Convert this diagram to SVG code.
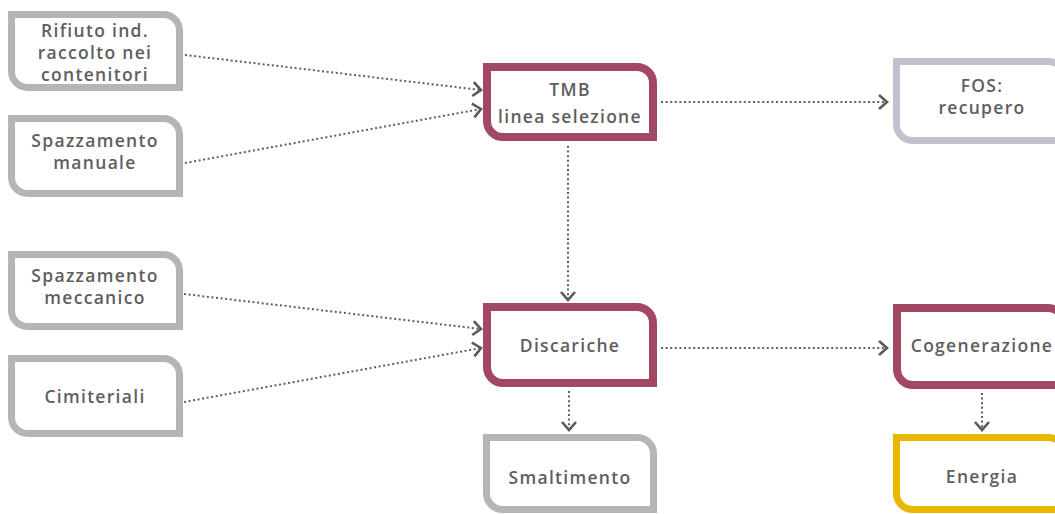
<svg xmlns="http://www.w3.org/2000/svg" width="1055" height="514" viewBox="0 0 1055 514">
<defs>
<style>
.box{fill:#fff;}
.gray{stroke:#b5b5b5;stroke-width:7;}
.red{stroke:#a24863;stroke-width:8;}
.lav{stroke:#c3c0cf;stroke-width:7;}
.yel{stroke:#ebb600;stroke-width:7;}
text{font-family:"Open Sans","Liberation Sans",sans-serif;font-weight:600;font-size:17.5px;letter-spacing:1.3px;fill:#5e5e5e;text-anchor:middle;}
.c{fill:none;stroke:#5f5f5f;stroke-width:2;stroke-dasharray:2 2.6;}
</style>
<marker id="ah" markerWidth="14" markerHeight="18" refX="10" refY="8" orient="auto" markerUnits="userSpaceOnUse">
<path d="M2 1 L10 8 L2 15" fill="none" stroke="#5a5a5a" stroke-width="2.6"/>
</marker>
</defs>
<g id="n-rifiuto"><path class="box gray" d="M11.5 14.5 H163.5 A16 16 0 0 1 179.5 30.5 V87.5 H27.5 A16 16 0 0 1 11.5 71.5 Z"/>
<text x="95" y="37">Rifiuto ind.</text><text x="95" y="59">raccolto nei</text><text x="95" y="81">contenitori</text></g>
<g id="n-manuale"><path class="box gray" d="M11.5 118.5 H163.5 A16 16 0 0 1 179.5 134.5 V193.5 H27.5 A16 16 0 0 1 11.5 177.5 Z"/>
<text x="95" y="147">Spazzamento</text><text x="95" y="169">manuale</text></g>
<g id="n-meccanico"><path class="box gray" d="M11.5 254.5 H163.5 A16 16 0 0 1 179.5 270.5 V326.5 H27.5 A16 16 0 0 1 11.5 310.5 Z"/>
<text x="95" y="282">Spazzamento</text><text x="95" y="304">meccanico</text></g>
<g id="n-cimiteriali"><path class="box gray" d="M11.5 358.5 H163.5 A16 16 0 0 1 179.5 374.5 V433.5 H27.5 A16 16 0 0 1 11.5 417.5 Z"/>
<text x="95" y="403">Cimiteriali</text></g>
<g id="n-tmb"><path class="box red" d="M487 67 H637 A16 16 0 0 1 653 83 V137 H503 A16 16 0 0 1 487 121 Z"/>
<text x="570" y="96">TMB</text><text x="570" y="123">linea selezione</text></g>
<g id="n-discariche"><path class="box red" d="M487 307 H637 A16 16 0 0 1 653 323 V383 H503 A16 16 0 0 1 487 367 Z"/>
<text x="570" y="352">Discariche</text></g>
<g id="n-smaltimento"><path class="box gray" d="M486.5 437.5 H637.5 A16 16 0 0 1 653.5 453.5 V509.5 H502.5 A16 16 0 0 1 486.5 493.5 Z"/>
<text x="570" y="484">Smaltimento</text></g>
<g id="n-fos"><path class="box lav" d="M896.5 61.5 H1048.5 A16 16 0 0 1 1064.5 77.5 V140.5 H912.5 A16 16 0 0 1 896.5 124.5 Z"/>
<text x="982" y="92">FOS:</text><text x="982" y="114">recupero</text></g>
<g id="n-cogenerazione"><path class="box red" d="M897 308 H1048 A16 16 0 0 1 1064 324 V385 H913 A16 16 0 0 1 897 369 Z"/>
<text x="982" y="352">Cogenerazione</text></g>
<g id="n-energia"><path class="box yel" d="M896.5 437.5 H1048.5 A16 16 0 0 1 1064.5 453.5 V509.5 H912.5 A16 16 0 0 1 896.5 493.5 Z"/>
<text x="982" y="483">Energia</text></g>
<g id="connectors">
<path class="c" d="M185 55 L481 90" marker-end="url(#ah)"/>
<path class="c" d="M185 163 L481 109" marker-end="url(#ah)"/>
<path class="c" d="M184 294 L481 329" marker-end="url(#ah)"/>
<path class="c" d="M184 402 L481 348" marker-end="url(#ah)"/>
<path class="c" d="M661 102 L887 102" marker-end="url(#ah)"/>
<path class="c" d="M661 348 L887 348" marker-end="url(#ah)"/>
<path class="c" d="M568 146 L568 300" marker-end="url(#ah)"/>
<path class="c" d="M569 391 L569 430" marker-end="url(#ah)"/>
<path class="c" d="M982 393 L982 430" marker-end="url(#ah)"/>
</g>
</svg>
